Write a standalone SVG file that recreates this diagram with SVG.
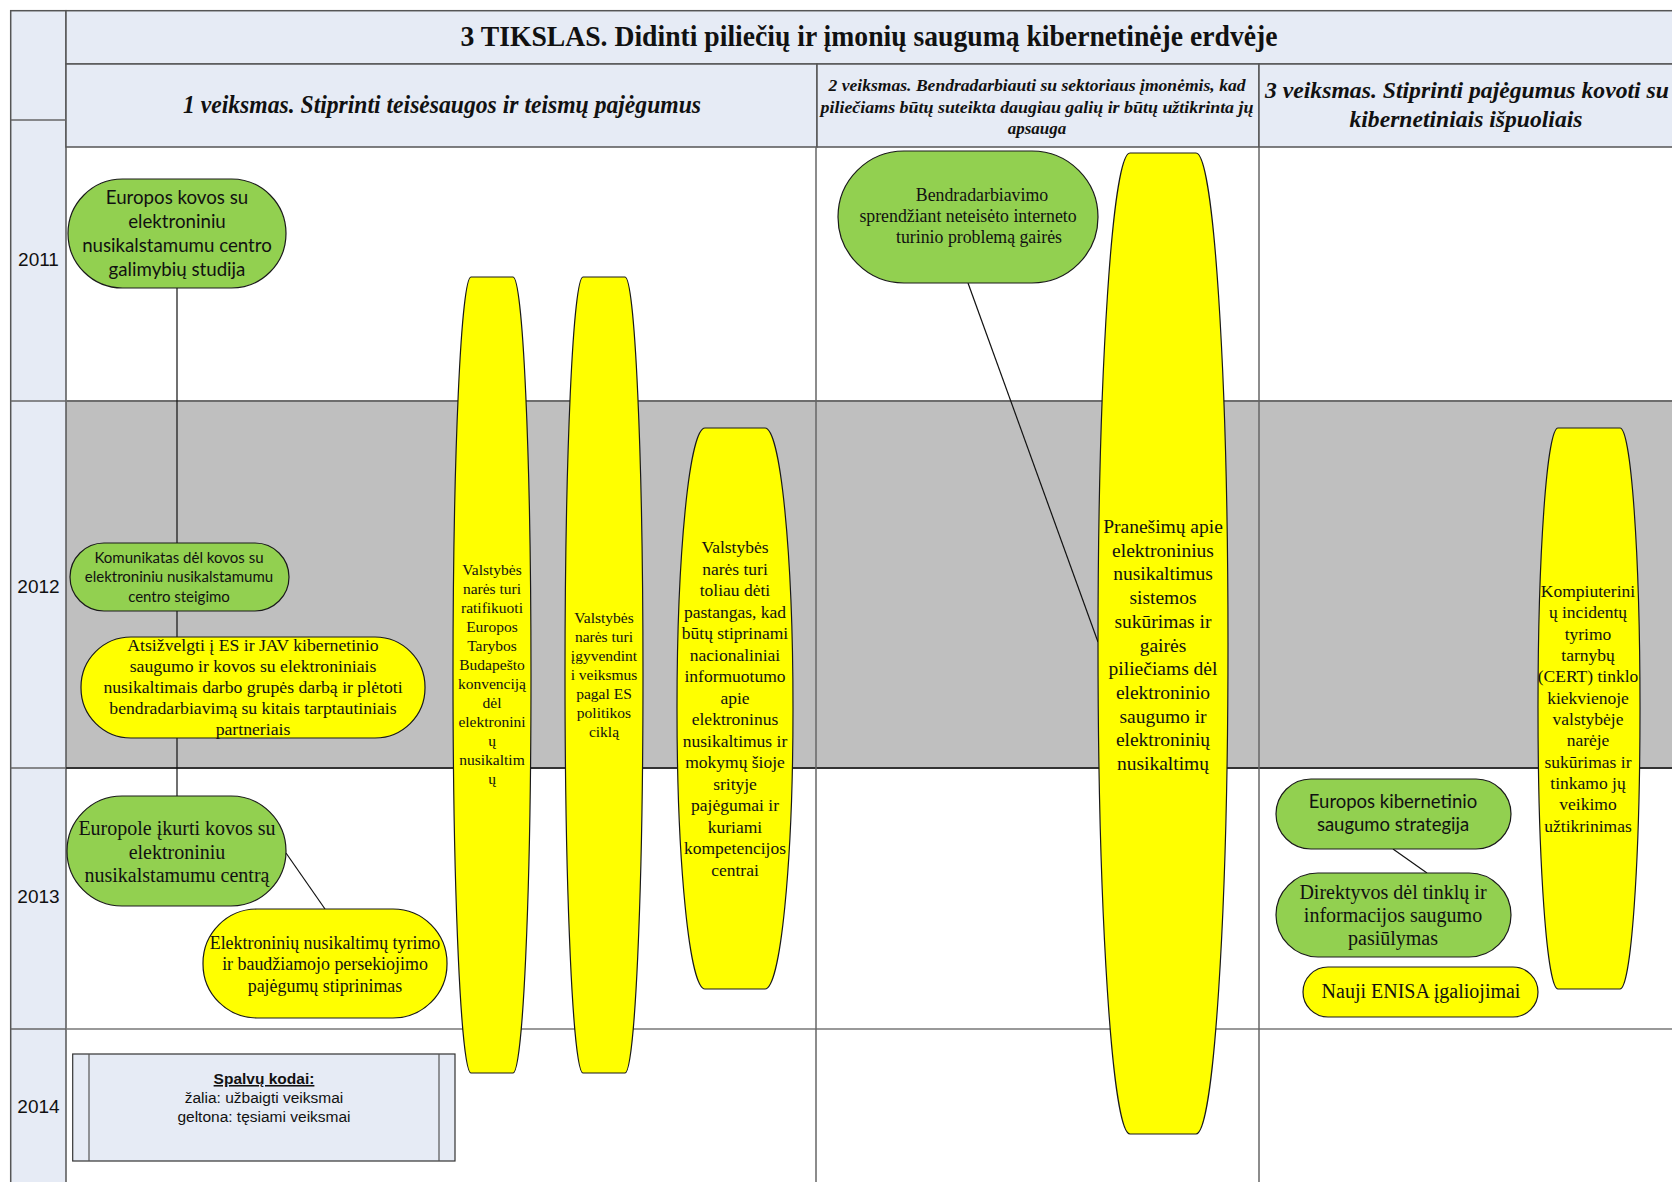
<svg xmlns="http://www.w3.org/2000/svg" width="1672" height="1182" viewBox="0 0 1672 1182">
<defs>
<style>
.hdr{fill:#E6EBF5;stroke:#555;stroke-width:1.5}
.grid{stroke:#666;stroke-width:1.5;fill:none}
.g{fill:#92D050;stroke:#1a1a1a;stroke-width:1.2}
.y{fill:#FFFF00;stroke:#1a1a1a;stroke-width:1.2}
.sans{font-family:Lato,"Liberation Sans",sans-serif;fill:#111;text-anchor:middle}
.serif{font-family:"Liberation Serif",serif;fill:#111;text-anchor:middle}
.arial{font-family:"Liberation Sans",Arial,sans-serif;fill:#111;text-anchor:middle}
.conn{stroke:#111;stroke-width:1.2;fill:none}
</style>
</defs>
<rect width="1672" height="1182" fill="#fff"/>
<g id="layout">
<rect x="66" y="401" width="1606" height="367" fill="#BFBFBF"/>
<rect class="hdr" x="10.7" y="10.7" width="55.3" height="1180"/>
<rect class="hdr" x="66" y="10.7" width="1610" height="53.3"/>
<rect class="hdr" x="66" y="64" width="751" height="83"/>
<rect class="hdr" x="817" y="64" width="442" height="83"/>
<rect class="hdr" x="1259" y="64" width="420" height="83"/>
<line class="grid" x1="10.7" y1="120" x2="66" y2="120"/>
<line class="grid" x1="10.7" y1="401" x2="66" y2="401"/>
<line class="grid" x1="10.7" y1="768" x2="66" y2="768"/>
<line class="grid" x1="10.7" y1="1029" x2="66" y2="1029"/>
<line x1="66" y1="401" x2="1672" y2="401" stroke="#6d6d6d" stroke-width="2"/>
<line x1="66" y1="768" x2="1672" y2="768" stroke="#333" stroke-width="2"/>
<line x1="66" y1="1029" x2="1672" y2="1029" stroke="#777" stroke-width="1.5"/>
<line class="grid" x1="816" y1="147" x2="816" y2="1182"/>
<line class="grid" x1="1259" y1="147" x2="1259" y2="1182"/>
<text x="869" y="46" font-family="Liberation Serif,serif" font-weight="bold" font-size="29.5" text-anchor="middle" textLength="817" lengthAdjust="spacingAndGlyphs" fill="#111">3 TIKSLAS. Didinti piliečių ir įmonių saugumą kibernetinėje erdvėje</text>
<text x="442" y="113" font-family="Liberation Serif,serif" font-weight="bold" font-style="italic" font-size="24.5" text-anchor="middle" textLength="518" lengthAdjust="spacingAndGlyphs" fill="#111">1 veiksmas. Stiprinti teisėsaugos ir teismų pajėgumus</text>
<g font-family="Liberation Serif,serif" font-weight="bold" font-style="italic" font-size="17" text-anchor="middle" fill="#111">
<text x="1037" y="91" textLength="417" lengthAdjust="spacingAndGlyphs">2 veiksmas. Bendradarbiauti su sektoriaus įmonėmis, kad</text>
<text x="1037" y="113" textLength="433" lengthAdjust="spacingAndGlyphs">piliečiams būtų suteikta daugiau galių ir būtų užtikrinta jų</text>
<text x="1037" y="134">apsauga</text>
</g>
<g font-family="Liberation Serif,serif" font-weight="bold" font-style="italic" font-size="23" text-anchor="middle" fill="#111">
<text x="1467" y="98" textLength="404" lengthAdjust="spacingAndGlyphs">3 veiksmas. Stiprinti pajėgumus kovoti su</text>
<text x="1466" y="127" textLength="233" lengthAdjust="spacingAndGlyphs">kibernetiniais išpuoliais</text>
</g>
<g class="arial" font-size="19">
<text x="38.5" y="266">2011</text>
<text x="38.5" y="593">2012</text>
<text x="38.5" y="903">2013</text>
<text x="38.5" y="1113">2014</text>
</g>
</g>
<g id="connectors">
<line class="conn" x1="177" y1="288" x2="177" y2="796"/>
<line class="conn" x1="286" y1="853" x2="325" y2="909"/>
<line class="conn" x1="968" y1="283" x2="1098" y2="642"/>
<line class="conn" x1="1393" y1="849" x2="1427" y2="873"/>
</g>
<g id="n1">
<rect class="g" x="68" y="179" width="218" height="109" rx="54.5"/>
<text class="sans" font-size="18.7"><tspan x="177" y="204">Europos kovos su</tspan><tspan x="177" y="228">elektroniniu</tspan><tspan x="177" y="252">nusikalstamumu centro</tspan><tspan x="177" y="276">galimybių studija</tspan></text>
</g>
<g id="n2">
<rect class="g" x="70" y="543" width="219" height="68" rx="34"/>
<text class="sans" font-size="15"><tspan x="179" y="563">Komunikatas dėl kovos su</tspan><tspan x="179" y="582">elektroniniu nusikalstamumu</tspan><tspan x="179" y="602">centro steigimo</tspan></text>
</g>
<g id="n3">
<rect class="y" x="81" y="637" width="344" height="101" rx="50"/>
<text class="serif" font-size="17.7"><tspan x="253" y="651">Atsižvelgti į ES ir JAV kibernetinio</tspan><tspan x="253" y="672">saugumo ir kovos su elektroniniais</tspan><tspan x="253" y="693">nusikaltimais darbo grupės darbą ir plėtoti</tspan><tspan x="253" y="714">bendradarbiavimą su kitais tarptautiniais</tspan><tspan x="253" y="735">partneriais</tspan></text>
</g>
<g id="n4">
<rect class="g" x="67" y="796" width="219" height="110" rx="55"/>
<text class="serif" font-size="20"><tspan x="177" y="835">Europole įkurti kovos su</tspan><tspan x="177" y="859">elektroniniu</tspan><tspan x="177" y="882">nusikalstamumu centrą</tspan></text>
</g>
<g id="n5">
<rect class="y" x="203" y="909" width="244" height="109" rx="54"/>
<text class="serif" font-size="17.9"><tspan x="325" y="949">Elektroninių nusikaltimų tyrimo</tspan><tspan x="325" y="970">ir baudžiamojo persekiojimo</tspan><tspan x="325" y="992">pajėgumų stiprinimas</tspan></text>
</g>
<g id="n6">
<rect class="y" x="453" y="277" width="78" height="796" rx="18" ry="398"/>
<text class="serif" font-size="15.5"><tspan x="492" y="575">Valstybės</tspan><tspan x="492" y="594">narės turi</tspan><tspan x="492" y="613">ratifikuoti</tspan><tspan x="492" y="632">Europos</tspan><tspan x="492" y="651">Tarybos</tspan><tspan x="492" y="670">Budapešto</tspan><tspan x="492" y="689">konvenciją</tspan><tspan x="492" y="708">dėl</tspan><tspan x="492" y="727">elektronini</tspan><tspan x="492" y="746">ų</tspan><tspan x="492" y="765">nusikaltim</tspan><tspan x="492" y="784">ų</tspan></text>
</g>
<g id="n7">
<rect class="y" x="565" y="277" width="78" height="796" rx="18" ry="398"/>
<text class="serif" font-size="15.5"><tspan x="604" y="623">Valstybės</tspan><tspan x="604" y="642">narės turi</tspan><tspan x="604" y="661">įgyvendint</tspan><tspan x="604" y="680">i veiksmus</tspan><tspan x="604" y="699">pagal ES</tspan><tspan x="604" y="718">politikos</tspan><tspan x="604" y="737">ciklą</tspan></text>
</g>
<g id="n8">
<rect class="y" x="677" y="428" width="116" height="561" rx="28" ry="280"/>
<text class="serif" font-size="17.5"><tspan x="735" y="553">Valstybės</tspan><tspan x="735" y="574.5">narės turi</tspan><tspan x="735" y="596">toliau dėti</tspan><tspan x="735" y="617.5">pastangas, kad</tspan><tspan x="735" y="639">būtų stiprinami</tspan><tspan x="735" y="660.5">nacionaliniai</tspan><tspan x="735" y="682">informuotumo</tspan><tspan x="735" y="703.5">apie</tspan><tspan x="735" y="725">elektroninus</tspan><tspan x="735" y="746.5">nusikaltimus ir</tspan><tspan x="735" y="768">mokymų šioje</tspan><tspan x="735" y="789.5">srityje</tspan><tspan x="735" y="811">pajėgumai ir</tspan><tspan x="735" y="832.5">kuriami</tspan><tspan x="735" y="854">kompetencijos</tspan><tspan x="735" y="875.5">centrai</tspan></text>
</g>
<g id="n9">
<rect class="g" x="838" y="151" width="260" height="132" rx="66"/>
<text class="serif" font-size="17.8"><tspan x="982" y="201">Bendradarbiavimo</tspan><tspan x="968" y="222">sprendžiant neteisėto interneto</tspan><tspan x="979" y="243">turinio problemą gairės</tspan></text>
</g>
<g id="n10">
<rect class="y" x="1098" y="153" width="130" height="981" rx="32" ry="490"/>
<text class="serif" font-size="19.5"><tspan x="1163" y="533">Pranešimų apie</tspan><tspan x="1163" y="556.7">elektroninius</tspan><tspan x="1163" y="580.4">nusikaltimus</tspan><tspan x="1163" y="604.1">sistemos</tspan><tspan x="1163" y="627.8">sukūrimas ir</tspan><tspan x="1163" y="651.5">gairės</tspan><tspan x="1163" y="675.2">piliečiams dėl</tspan><tspan x="1163" y="698.9">elektroninio</tspan><tspan x="1163" y="722.6">saugumo ir</tspan><tspan x="1163" y="746.3">elektroninių</tspan><tspan x="1163" y="770">nusikaltimų</tspan></text>
</g>
<g id="n11">
<rect class="y" x="1538" y="428" width="102" height="561" rx="20" ry="280"/>
<text class="serif" font-size="17.5"><tspan x="1588" y="597">Kompiuterini</tspan><tspan x="1588" y="618.4">ų incidentų</tspan><tspan x="1588" y="639.7">tyrimo</tspan><tspan x="1588" y="661">tarnybų</tspan><tspan x="1588" y="682.4">(CERT) tinklo</tspan><tspan x="1588" y="703.7">kiekvienoje</tspan><tspan x="1588" y="725">valstybėje</tspan><tspan x="1588" y="746.4">narėje</tspan><tspan x="1588" y="767.7">sukūrimas ir</tspan><tspan x="1588" y="789">tinkamo jų</tspan><tspan x="1588" y="810.4">veikimo</tspan><tspan x="1588" y="831.7">užtikrinimas</tspan></text>
</g>
<g id="n12">
<rect class="g" x="1276" y="779" width="235" height="70" rx="35"/>
<text class="sans" font-size="18.5"><tspan x="1393" y="808">Europos kibernetinio</tspan><tspan x="1393" y="831">saugumo strategija</tspan></text>
</g>
<g id="n13">
<rect class="g" x="1276" y="873" width="235" height="84" rx="42"/>
<text class="serif" font-size="20"><tspan x="1393" y="899">Direktyvos dėl tinklų ir</tspan><tspan x="1393" y="922">informacijos saugumo</tspan><tspan x="1393" y="945">pasiūlymas</tspan></text>
</g>
<g id="n14">
<rect class="y" x="1303" y="967" width="235" height="50" rx="25"/>
<text class="serif" font-size="20" x="1421" y="998">Nauji ENISA įgaliojimai</text>
</g>
<g id="legend">
<rect x="72.7" y="1054" width="382.3" height="107" fill="#E6EBF5" stroke="#333" stroke-width="1.2"/>
<line x1="89" y1="1054" x2="89" y2="1161" stroke="#555" stroke-width="1.2"/>
<line x1="439" y1="1054" x2="439" y2="1161" stroke="#555" stroke-width="1.2"/>
<text class="arial" font-size="15.5"><tspan x="264" y="1084" font-weight="bold" text-decoration="underline">Spalvų kodai:</tspan><tspan x="264" y="1103">žalia: užbaigti veiksmai</tspan><tspan x="264" y="1122">geltona: tęsiami veiksmai</tspan></text>
</g>
</svg>
